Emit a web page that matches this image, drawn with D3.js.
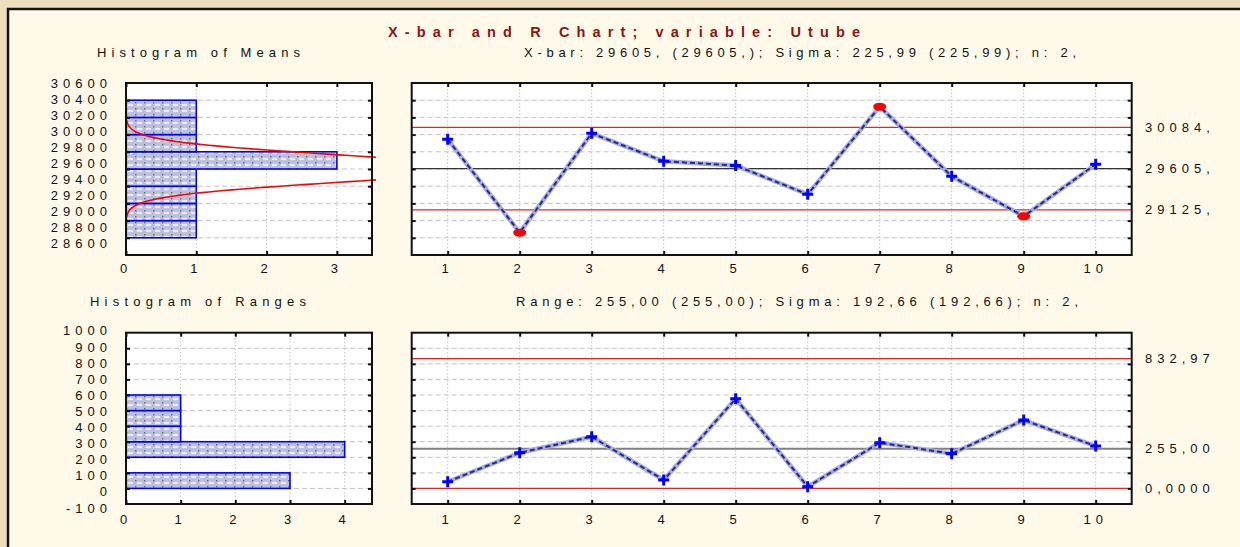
<!DOCTYPE html>
<meta charset="utf-8">
<script src="https://d3js.org/d3.v7.min.js"></script>
<style>
  body { margin: 0; }
  text { font-family: "Liberation Sans", Arial, sans-serif; fill: #111; }
</style>
<svg id="chart" width="1240" height="547"></svg>
<script>

    // samples and values
    var samples = [1, 2, 3, 4, 5, 6, 7, 8, 9, 10];
    var means = [29945, 28860, 30015, 29690, 29640, 29305, 30325, 29515, 29050, 29655];
    var ranges = [43, 229, 332, 54, 576, 11, 294, 223, 439, 272];

    // control limits
    var xbarLimits = [30084, 29605, 29125];
    var xbarLimitLabels = ["30084,", "29605,", "29125,"];
    var rLimits = [832.97, 255, 0];
    var rLimitLabels = ["832,97", "255,00", "0,0000"];
    var xbarSigma = 225.99, nSize = 2;

    // axis ticks
    var meanTicks = [28600, 28800, 29000, 29200, 29400, 29600, 29800, 30000, 30200, 30400, 30600];
    var rangeTicks = [-100, 0, 100, 200, 300, 400, 500, 600, 700, 800, 900, 1000];
    var meanBins = [28800, 29000, 29200, 29400, 29600, 29800, 30000, 30200, 30400];
    var rangeBins = [0, 100, 200, 300, 400, 500, 600];
    var meanCountTicks = [0, 1, 2, 3];
    var rangeCountTicks = [0, 1, 2, 3, 4];

    var svg = d3.select("svg");

    // background and frame
    svg.append("rect").attr("width", 1240).attr("height", 547).attr("fill", "#eedfbf");
    svg.append("rect").attr("x", 8).attr("y", 9).attr("width", 1400).attr("height", 700)
        .attr("fill", "#fff9ea").attr("stroke", "#151515").attr("stroke-width", 2.5);

    // bar fill pattern
    var pat = svg.append("defs").append("pattern").attr("id", "weave")
        .attr("width", 9).attr("height", 6).attr("patternUnits", "userSpaceOnUse");
    pat.append("rect").attr("width", 9).attr("height", 6).attr("fill", "#bcbfdb");
    pat.append("ellipse").attr("cx", 4.5).attr("cy", 3).attr("rx", 3).attr("ry", 1.3).attr("fill", "#e8eaf6");
    pat.append("rect").attr("x", 0).attr("y", 0).attr("width", 1.4).attr("height", 1.4).attr("fill", "#66698a");

    // titles
    function label(txt, x, y, opts) {
        opts = opts || {};
        var t = svg.append("text").attr("x", x).attr("y", y).text(txt)
            .style("font-size", (opts.size || 13) + "px")
            .attr("text-anchor", opts.anchor || "start");
        if (opts.len) t.attr("textLength", opts.len).attr("lengthAdjust", "spacing");
        if (opts.bold) t.style("font-weight", "bold");
        if (opts.fill) t.style("fill", opts.fill);
        return t;
    }

    label("X-bar and R Chart; variable:  Utube", 388, 37, { size: 14.5, bold: true, fill: "#8e1212", len: 472 });
    label("Histogram of Means", 97, 57, { len: 203 });
    label("X-bar: 29605, (29605,); Sigma: 225,99 (225,99); n: 2,", 524, 57, { len: 552 });
    label("Histogram of Ranges", 90, 306, { len: 216 });
    label("Range: 255,00 (255,00); Sigma: 192,66 (192,66); n: 2,", 516, 306, { len: 562 });

    // panel geometry
    var histX = [126, 372], ctrlX = [411.7, 1131.7];
    var topY = [255, 83], botY = [504, 332.7];

    var yMeans = d3.scaleLinear().domain([28600, 30600]).range(topY);
    var yRanges = d3.scaleLinear().domain([-100, 1000]).range(botY);
    var xSample = d3.scaleLinear().domain([0.5, 10.5]).range(ctrlX);
    var xCountM = d3.scaleLinear().domain([0, 3.5]).range(histX);
    var xCountR = d3.scaleLinear().domain([0, 4.5]).range(histX);

    // label positions drift a little from the ticks in the original
    var yMeansLab = d3.scaleLinear().domain([28600, 30400]).range([247.5, 103.5]);
    var yRangesLab = d3.scaleLinear().domain([-100, 900]).range([512.5, 351.5]);

    function frame(xs, ys, yt, xt) {
        var g = svg.append("g");
        g.append("rect").attr("x", xs.range()[0]).attr("y", ys.range()[1])
            .attr("width", xs.range()[1] - xs.range()[0]).attr("height", ys.range()[0] - ys.range()[1])
            .attr("fill", "#fff");
        // grid
        g.selectAll(".hg").data(yt).enter().append("line")
            .attr("x1", xs.range()[0]).attr("x2", xs.range()[1])
            .attr("y1", function (d) { return ys(d) }).attr("y2", function (d) { return ys(d) })
            .attr("stroke", "#c4c4c4").attr("stroke-dasharray", "5,3");
        g.selectAll(".vg").data(xt).enter().append("line")
            .attr("y1", ys.range()[0]).attr("y2", ys.range()[1])
            .attr("x1", function (d) { return xs(d) }).attr("x2", function (d) { return xs(d) })
            .attr("stroke", "#c4c4c4").attr("stroke-dasharray", "1.5,2");
        return g;
    }

    function border(xs, ys, yt, xt) {
        var g = svg.append("g");
        var x0 = xs.range()[0], x1 = xs.range()[1], y0 = ys.range()[0], y1 = ys.range()[1];
        g.append("g").attr("transform", "translate(" + x0 + ",0)")
            .call(d3.axisRight(ys).tickValues(yt).tickSize(4).tickFormat(""));
        g.append("g").attr("transform", "translate(" + x1 + ",0)")
            .call(d3.axisLeft(ys).tickValues(yt).tickSize(4).tickFormat(""));
        g.append("g").attr("transform", "translate(0," + y1 + ")")
            .call(d3.axisBottom(xs).tickValues(xt).tickSize(4).tickFormat(""));
        g.append("g").attr("transform", "translate(0," + y0 + ")")
            .call(d3.axisTop(xs).tickValues(xt).tickSize(4).tickFormat(""));
        g.selectAll(".domain").remove();
        g.selectAll(".tick line").attr("stroke", "#111").attr("stroke-width", 2);
        g.append("rect").attr("x", x0).attr("y", y1).attr("width", x1 - x0).attr("height", y0 - y1)
            .attr("fill", "none").attr("stroke", "#111").attr("stroke-width", 2);
    }

    function xLabels(xs, vals, y) {
        svg.append("g").selectAll("text").data(vals).enter().append("text")
            .attr("x", function (d) { return xs(d) }).attr("y", y)
            .attr("text-anchor", "middle").style("font-size", "13px").style("letter-spacing", "5px")
            .text(function (d) { return d });
    }

    function yLabels(ls, vals, x) {
        svg.append("g").selectAll("text").data(vals).enter().append("text")
            .attr("x", x).attr("y", function (d) { return ls(d) })
            .attr("text-anchor", "end").style("font-size", "13px").style("letter-spacing", "5px")
            .text(function (d) { return d });
    }

    // ---------- histogram of means ----------
    var innerMeanTicks = meanTicks.slice(1, -1);
    frame(xCountM, yMeans, innerMeanTicks, [1, 2, 3]);
    var mBins = d3.bin().domain([meanBins[0], meanBins[meanBins.length - 1]]).thresholds(meanBins.slice(1, -1))(means)
        .filter(function (b) { return b.length > 0 });
    svg.append("g").selectAll("rect").data(mBins).enter().append("rect")
        .attr("x", xCountM(0))
        .attr("y", function (d) { return yMeans(d.x1) })
        .attr("width", function (d) { return xCountM(d.length) - xCountM(0) })
        .attr("height", function (d) { return yMeans(d.x0) - yMeans(d.x1) })
        .attr("fill", "url(#weave)").attr("stroke", "#0000ff").attr("stroke-width", 1.6);

    // fitted normal curve: N * bin width * pdf
    var sigMean = xbarSigma / Math.sqrt(nSize), mu = xbarLimits[1];
    var curvePts = d3.range(-3.5, 3.501, 0.05).map(function (z) {
        return [mu + z * sigMean, means.length * 200 * Math.exp(-z * z / 2) / (sigMean * Math.sqrt(2 * Math.PI))];
    });
    svg.append("clipPath").attr("id", "clipM").append("rect")
        .attr("x", 126).attr("y", 83).attr("width", 250).attr("height", 172);
    svg.append("path").datum(curvePts)
        .attr("clip-path", "url(#clipM)")
        .attr("fill", "none").attr("stroke", "#ff0000").attr("stroke-width", 1.6)
        .attr("d", d3.line().x(function (d) { return xCountM(d[1]) }).y(function (d) { return yMeans(d[0]) }));
    border(xCountM, yMeans, innerMeanTicks, meanCountTicks);
    xLabels(xCountM, meanCountTicks, 273);
    yLabels(yMeansLab, meanTicks, 112);

    // ---------- histogram of ranges ----------
    var innerRangeTicks = rangeTicks.slice(1, -1);
    frame(xCountR, yRanges, innerRangeTicks, [1, 2, 3, 4]);
    var rBins = d3.bin().domain([rangeBins[0], rangeBins[rangeBins.length - 1]]).thresholds(rangeBins.slice(1, -1))(ranges)
        .filter(function (b) { return b.length > 0 });
    svg.append("g").selectAll("rect").data(rBins).enter().append("rect")
        .attr("x", xCountR(0))
        .attr("y", function (d) { return yRanges(d.x1) })
        .attr("width", function (d) { return xCountR(d.length) - xCountR(0) })
        .attr("height", function (d) { return yRanges(d.x0) - yRanges(d.x1) })
        .attr("fill", "url(#weave)").attr("stroke", "#0000ff").attr("stroke-width", 1.6);
    border(xCountR, yRanges, innerRangeTicks, rangeCountTicks);
    xLabels(xCountR, rangeCountTicks, 524);
    yLabels(yRangesLab, rangeTicks, 112);

    // ---------- control charts ----------
    function controlChart(ys, vals, limits, limLabels, yTicks, upper, lower, centerStyle) {
        frame(xSample, ys, yTicks, samples);
        var g = svg.append("g");
        // limit lines
        g.selectAll(".lim").data(limits).enter().append("line")
            .attr("x1", ctrlX[0]).attr("x2", ctrlX[1])
            .attr("y1", function (d) { return ys(d) }).attr("y2", function (d) { return ys(d) })
            .attr("stroke", function (d, i) { return i === 1 ? centerStyle[0] : "#ff1a1a" })
            .attr("stroke-width", function (d, i) { return i === 1 ? centerStyle[1] : 1.2 });

        var line = d3.line()
            .x(function (d, i) { return xSample(samples[i]) })
            .y(function (d) { return ys(d) });
        g.append("path").datum(vals).attr("fill", "none")
            .attr("stroke", "#a7ade2").attr("stroke-width", 4.5).attr("d", line);
        g.append("path").datum(vals).attr("fill", "none")
            .attr("stroke", "#262a86").attr("stroke-width", 2).attr("stroke-dasharray", "5,3").attr("d", line);

        var pts = vals.map(function (v, i) { return { s: samples[i], v: v, out: v > upper || v < lower } });
        g.selectAll(".plus").data(pts.filter(function (p) { return !p.out })).enter().append("path")
            .attr("d", function (p) {
                var x = xSample(p.s), y = ys(p.v);
                return "M" + (x - 5.5) + "," + y + "H" + (x + 5.5) + "M" + x + "," + (y - 5.5) + "V" + (y + 5.5);
            })
            .attr("stroke", "#0000ff").attr("stroke-width", 3);
        g.selectAll(".out").data(pts.filter(function (p) { return p.out })).enter().append("ellipse")
            .attr("cx", function (p) { return xSample(p.s) })
            .attr("cy", function (p) { return ys(p.v) })
            .attr("rx", 6.5).attr("ry", 4).attr("fill", "#ff0000");

        border(xSample, ys, yTicks, samples);

        svg.append("g").selectAll("text").data(limits).enter().append("text")
            .attr("x", 1145).attr("y", function (d) { return ys(d) + 4.5 })
            .style("font-size", "13px").style("letter-spacing", "5px")
            .text(function (d, i) { return limLabels[i] });
    }

    controlChart(yMeans, means, xbarLimits, xbarLimitLabels, innerMeanTicks, xbarLimits[0], xbarLimits[2], ["#333", 1.2]);
    xLabels(xSample, samples, 273);
    controlChart(yRanges, ranges, rLimits, rLimitLabels, innerRangeTicks, rLimits[0], -1, ["#808080", 2]);
    xLabels(xSample, samples, 524);

</script>
